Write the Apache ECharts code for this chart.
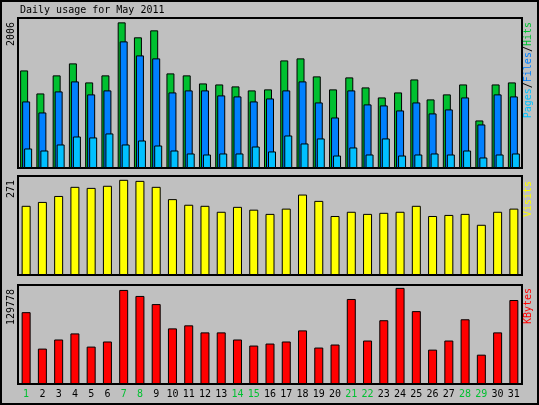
<!DOCTYPE html>
<html>
<head>
<meta charset="utf-8">
<script src="https://cdn.jsdelivr.net/npm/echarts@6/dist/echarts.min.js"></script>
<style>
  html, body { margin: 0; padding: 0; background: #c0c0c0; }
  #chart { width: 539px; height: 405px; }
</style>
</head>
<body>
<div id="chart"></div>
<script>
// data
const days = ["1","2","3","4","5","6","7","8","9","10","11","12","13","14","15","16",
  "17","18","19","20","21","22","23","24","25","26","27","28","29","30","31"];
const weekend = ["1","7","8","14","15","21","22","28","29"];
const hits = [1344,1027,1276,1441,1179,1276,2006,1800,1896,1303,1276,1165,1151,1124,1069,1083,
  1482,1510,1262,1083,1248,1110,972,1041,1220,945,1014,1151,655,1151,1179];
const files = [917,765,1055,1193,1014,1069,1744,1551,1510,1041,1069,1069,1000,986,917,958,
  1069,1193,903,696,1069,876,862,793,903,752,807,972,600,1014,986];
const pages = [269,241,324,434,421,476,324,379,310,241,200,186,200,200,296,228,
  448,338,407,172,283,186,407,172,186,200,186,241,145,186,200];
const visits = [197,208,225,251,248,254,271,268,251,216,200,197,180,194,186,174,
  189,229,211,168,180,174,177,180,197,168,171,174,143,180,189];
const kbytes = [97000,47800,60100,68300,50500,57400,127000,118900,107900,75100,79200,69700,69700,60100,51900,54600,
  57400,72400,49200,53300,114800,58700,86100,129778,98400,46400,58700,87400,39600,69700,113400];
const maxLabels = ["2006", "271", "129778"];

const font = "'DejaVu Sans Mono', monospace";
const edge = { borderColor: "#000", borderWidth: 1 };

const grids = [
  { left: 18, top: 18, width: 504, height: 150 },
  { left: 18, top: 176, width: 504, height: 99 },
  { left: 18, top: 285, width: 504, height: 99 },
].map((g) => Object.assign({ show: true, borderColor: "#000", borderWidth: 2, backgroundColor: "#c0c0c0" }, g));

const xAxes = [0, 1, 2].map((i) => ({
  type: "category",
  gridIndex: i,
  data: days,
  axisLine: { show: false },
  axisTick: { show: false },
  axisLabel: {
    show: i === 2,
    interval: 0,
    margin: 5,
    fontFamily: font,
    fontSize: 10,
    color: (v) => (weekend.includes(v) ? "#00c030" : "#000"),
  },
}));

const yMax = [2006 * 1.03, 271 * 1.04, 129778 * 1.03];
const yAxes = yMax.map((m, i) => ({
  type: "value",
  gridIndex: i,
  min: 0,
  max: m,
  show: false,
  splitLine: { show: false },
}));

const bar = (name, data, color, i, extra) =>
  Object.assign({
    type: "bar",
    name,
    data,
    xAxisIndex: i,
    yAxisIndex: i,
    barWidth: 8,
    itemStyle: Object.assign({ color }, edge),
    silent: true,
    animation: false,
  }, extra);

const sideLabel = (x, y, text, style) => ({
  type: "text",
  x,
  y,
  rotation: Math.PI / 2,
  style: Object.assign({ text, font: "10px " + font, textAlign: "right", textVerticalAlign: "middle" }, style),
});

const chart = echarts.init(document.getElementById("chart"));
chart.setOption({
  backgroundColor: "#c0c0c0",
  animation: false,
  grid: grids,
  xAxis: xAxes,
  yAxis: yAxes,
  series: [
    bar("Hits", hits, "#00c030", 0, { barGap: "-75%" }),
    bar("Files", files, "#0080ff", 0, { barGap: "-75%" }),
    bar("Pages", pages, "#00c0ff", 0, { barGap: "-75%" }),
    bar("Visits", visits, "#ffff00", 1, { barWidth: 9 }),
    bar("KBytes", kbytes, "#ff0000", 2, { barWidth: 9 }),
  ],
  graphic: [
    { type: "rect", shape: { x: 1, y: 1, width: 537, height: 403 }, style: { fill: "none", stroke: "#000", lineWidth: 2 } },
    { type: "text", x: 20, y: 5, style: { text: "Daily usage for May 2011", font: "10px " + font, fill: "#000" } },
    sideLabel(11, 22, maxLabels[0], { fill: "#000" }),
    sideLabel(11, 180, maxLabels[1], { fill: "#000" }),
    sideLabel(11, 289, maxLabels[2], { fill: "#000" }),
    sideLabel(528, 22, "{p|Pages}{s|/}{f|Files}{s|/}{h|Hits}", {
      rich: {
        p: { fill: "#00c0ff", font: "10px " + font },
        f: { fill: "#0080ff", font: "10px " + font },
        h: { fill: "#00c030", font: "10px " + font },
        s: { fill: "#000", font: "10px " + font },
      },
    }),
    sideLabel(528, 181, "Visits", { fill: "#ffff00" }),
    sideLabel(528, 288, "KBytes", { fill: "#ff0000" }),
  ],
});
</script>
</body>
</html>
